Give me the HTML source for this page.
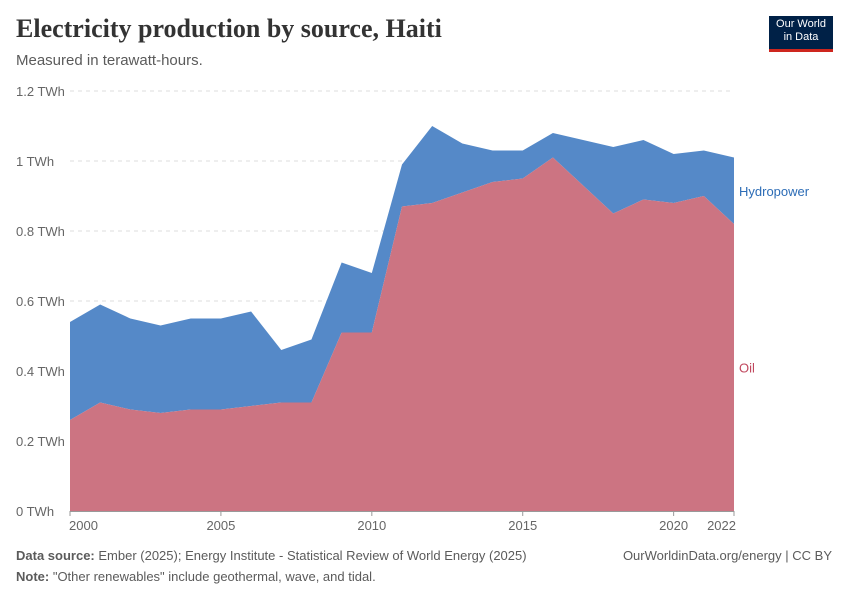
<!DOCTYPE html>
<html><head><meta charset="utf-8"><style>
body{margin:0;background:#fff;font-family:"Liberation Sans",sans-serif;}
#wrap{position:relative;width:850px;height:600px;overflow:hidden;}
.t{position:absolute;white-space:nowrap;}
</style></head><body>
<div id="wrap">
<div class="t" style="left:16px;top:14px;font-family:'Liberation Serif',serif;font-size:26px;color:#333;font-weight:bold;">Electricity production by source, Haiti</div>
<div class="t" style="left:16px;top:52px;font-size:15px;color:#5b5b5b;">Measured in terawatt-hours.</div>
<div style="position:absolute;left:769px;top:16px;width:64px;height:36px;background:#002147;border-bottom:3px solid #ce261e;color:#fff;font-size:11px;line-height:13px;text-align:center;padding-top:2px;box-sizing:border-box;">Our World<br>in Data</div>
<svg id="chart" width="850" height="600" style="position:absolute;left:0;top:0"></svg>
<div class="t" style="left:16px;top:548px;font-size:13px;color:#5b5b5b;"><b>Data source:</b> Ember (2025); Energy Institute - Statistical Review of World Energy (2025)</div>
<div class="t" style="right:18px;top:548px;font-size:13px;color:#5b5b5b;">OurWorldinData.org/energy | CC BY</div>
<div class="t" style="left:16px;top:569px;font-size:13px;color:#5b5b5b;"><b>Note:</b> "Other renewables" include geothermal, wave, and tidal.</div>
</div>
<script>
const years=[2000,2001,2002,2003,2004,2005,2006,2007,2008,2009,2010,2011,2012,2013,2014,2015,2016,2017,2018,2019,2020,2021,2022];
const oil=[0.26,0.31,0.29,0.28,0.29,0.29,0.30,0.31,0.31,0.51,0.51,0.87,0.88,0.91,0.94,0.95,1.01,0.93,0.85,0.89,0.88,0.90,0.82];
const hydro=[0.28,0.28,0.26,0.25,0.26,0.26,0.27,0.15,0.18,0.20,0.17,0.12,0.22,0.14,0.09,0.08,0.07,0.13,0.19,0.17,0.14,0.13,0.19];
const yTicks=[0,0.2,0.4,0.6,0.8,1,1.2];
const yTickLabels=["0 TWh","0.2 TWh","0.4 TWh","0.6 TWh","0.8 TWh","1 TWh","1.2 TWh"];
const xTicks=[2000,2005,2010,2015,2020,2022];
const svg=document.getElementById('chart');const NS='http://www.w3.org/2000/svg';
const X=v=>70+(v-2000)/22*664;const Y=v=>511-v/1.2*420;
function mk(t,a){const e=document.createElementNS(NS,t);for(const k in a)e.setAttribute(k,a[k]);svg.appendChild(e);return e;}
yTicks.forEach((v,i)=>{
 if(v>0){const l=mk('line',{x1:70,x2:734,y1:Y(v),y2:Y(v),stroke:'#ddd','stroke-dasharray':'4,4'});
 
 }
 const t=mk('text',{x:16,y:Y(v)+5,'font-size':13,fill:'#666','font-family':'Liberation Sans,sans-serif'});t.textContent=yTickLabels[i];
 
 
});
let tot=oil.map((o,i)=>o+hydro[i]);
function area(top,bot,color,name){
 let d='M'+years.map((y,i)=>X(y)+','+Y(top[i])).join('L');
 for(let i=years.length-1;i>=0;i--)d+='L'+X(years[i])+','+Y(bot[i]);
 const p=mk('path',{d:d+'Z',fill:color});
 
 
}
area(tot,oil,'#5589c8','hydropower-area');
area(oil,oil.map(()=>0),'#cc7482','oil-area');
const ax=mk('line',{x1:70,x2:734,y1:511.5,y2:511.5,stroke:'#999'});


xTicks.forEach(v=>{
 const tk=mk('line',{x1:X(v),x2:X(v),y1:511,y2:516,stroke:'#999'});
 
 
 const t=mk('text',{x:X(v),y:530,'font-size':13,fill:'#666','text-anchor':v==2000?'start':(v==2022?'end':'middle'),'font-family':'Liberation Sans,sans-serif'});t.textContent=v;
 if(v==2000)t.setAttribute('x',X(v)-1);
 if(v==2022)t.setAttribute('x',X(v)+2);
 
 
});
const n=years.length-1;
const l1=mk('text',{x:739,y:(Y(tot[n])+Y(oil[n]))/2+5,'font-size':13,fill:'#2c6cb6','font-family':'Liberation Sans,sans-serif'});l1.textContent='Hydropower';


const l2=mk('text',{x:739,y:Y(oil[n]/2)+5,'font-size':13,fill:'#c0485e','font-family':'Liberation Sans,sans-serif'});l2.textContent='Oil';


</script>
</body></html>
